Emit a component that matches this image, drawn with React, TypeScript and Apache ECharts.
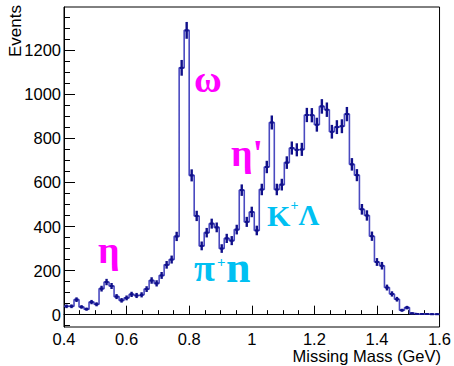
import React, { useEffect, useRef } from "react";
import * as echarts from "echarts";

// Histogram definition: 75 bins of 0.016 GeV from 0.4 GeV
const binStart = 0.4;
const binWidth = 0.016;
const counts = [
  38, 38, 68, 35, 25, 57, 47, 118, 148, 130,
  82, 65, 76, 92, 87, 90, 116, 155, 142, 178,
  226, 250, 355, 1120, 1290, 632, 448, 312, 372, 413,
  396, 300, 346, 336, 386, 565, 421, 466, 382, 568,
  670, 872, 568, 590, 690, 756, 748, 750, 906, 905,
  862, 945, 930, 830, 851, 855, 910, 682, 633, 478,
  450, 356, 239, 222, 123, 94, 70, 20, 32, 6,
  3, 3, 3, 2, 2,
];

const xMajorTicks = [0.4, 0.6, 0.8, 1.0, 1.2, 1.4, 1.6];
const xMinorTicks = [0.45, 0.5, 0.55, 0.65, 0.7, 0.75, 0.85, 0.9, 0.95, 1.05, 1.1, 1.15, 1.25, 1.3, 1.35, 1.45, 1.5, 1.55];
const yMajorTicks = [0, 200, 400, 600, 800, 1000, 1200];
const yMinorTicks = [-50, 50, 100, 150, 250, 300, 350, 450, 500, 550, 650, 700, 750, 850, 900, 950, 1050, 1100, 1150, 1250, 1300, 1350];

const xLabel = "Missing Mass (GeV)";
const yLabel = "Events";

const SANS = '"Liberation Sans", Arial, Helvetica, sans-serif';
const SERIF = '"Liberation Serif", "Times New Roman", serif';
const MAGENTA = "#ff00ff";
const CYAN = "#00c0f2";

export default function App() {
  const ref = useRef<HTMLDivElement>(null);
  useEffect(() => {
    if (!ref.current) return;
    const chart = echarts.init(ref.current, null, { renderer: "svg" });

    const stepData: number[][] = [];
    const barData: number[][] = [];
    counts.forEach((v, i) => {
      const x0 = binStart + i * binWidth;
      const x1 = x0 + binWidth;
      stepData.push([x0, v], [x1, v]);
      barData.push([x0, x1, v, Math.sqrt(v)]);
    });

    const fmt = (v: number) => String(Math.round(v * 10) / 10);

    const option: any = {
      animation: false,
      grid: { left: 64, top: 7, width: 377, height: 320, show: true, borderColor: "#000", borderWidth: 1, backgroundColor: "transparent" },
      xAxis: [
        {
          type: "value", min: 0.4, max: 1.6, position: "bottom",
          axisLine: { show: true, lineStyle: { color: "#000", width: 1 } },
          axisTick: { show: true, inside: true, length: 9, customValues: xMajorTicks, lineStyle: { color: "#000" } },
          axisLabel: { show: true, customValues: xMajorTicks, formatter: fmt, color: "#000", fontSize: 16.5, fontFamily: SANS, margin: 3 },
          splitLine: { show: false },
        },
        {
          type: "value", min: 0.4, max: 1.6, position: "bottom",
          axisLine: { show: false },
          axisTick: { show: true, inside: true, length: 4.5, customValues: xMinorTicks, lineStyle: { color: "#000" } },
          axisLabel: { show: false },
          splitLine: { show: false },
        },
      ],
      yAxis: [
        {
          type: "value", min: -56, max: 1396, position: "left",
          axisLine: { show: true, lineStyle: { color: "#000", width: 1 } },
          axisTick: { show: true, inside: true, length: 11, customValues: yMajorTicks, lineStyle: { color: "#000" } },
          axisLabel: { show: true, customValues: yMajorTicks, formatter: (v: number) => String(v), color: "#000", fontSize: 16.5, fontFamily: SANS, margin: 3 },
          splitLine: { show: false },
        },
        {
          type: "value", min: -56, max: 1396, position: "left",
          axisLine: { show: false },
          axisTick: { show: true, inside: true, length: 6, customValues: yMinorTicks, lineStyle: { color: "#000" } },
          axisLabel: { show: false },
          splitLine: { show: false },
        },
      ],
      series: [
        {
          type: "line", data: stepData, xAxisIndex: 0, yAxisIndex: 0,
          symbol: "none", lineStyle: { color: "#4a4ac0", width: 1.6 }, z: 2,
        },
        {
          type: "custom", data: barData, xAxisIndex: 0, yAxisIndex: 0, z: 3,
          encode: { x: [0, 1], y: [2] },
          renderItem: (params: any, api: any) => {
            const x0 = api.value(0), x1 = api.value(1), v = api.value(2), e = api.value(3);
            const xc = (x0 + x1) / 2;
            const pL = api.coord([x0, v]);
            const pR = api.coord([x1, v]);
            const pT = api.coord([xc, v + e]);
            const pB = api.coord([xc, v - e]);
            const inset = (pR[0] - pL[0]) * 0.12;
            const st = { stroke: "#10108a", lineWidth: 2 };
            return {
              type: "group",
              children: [
                { type: "line", shape: { x1: pL[0] + inset, y1: pL[1], x2: pR[0] - inset, y2: pR[1] }, style: st },
                { type: "line", shape: { x1: pT[0], y1: pT[1] - 0.5, x2: pB[0], y2: pB[1] + 0.5 }, style: { stroke: "#10108a", lineWidth: 2.4 } },
              ],
            };
          },
        },
      ],
      graphic: [
        { type: "text", x: 15, y: 31, rotation: Math.PI / 2, style: { text: yLabel, font: `17px ${SANS}`, fill: "#000", align: "center", verticalAlign: "middle" } },
        { type: "text", x: 441, y: 356, style: { text: xLabel, font: `16.5px ${SANS}`, fill: "#000", align: "right", verticalAlign: "middle" } },
        { type: "text", x: 194, y: 79, style: { text: "ω", font: `bold 38px ${SERIF}`, fill: MAGENTA, align: "left", verticalAlign: "middle" } },
        { type: "text", x: 98, y: 250, style: { text: "η", font: `bold 38px ${SERIF}`, fill: MAGENTA, align: "left", verticalAlign: "middle" } },
        { type: "text", x: 231, y: 153, style: { text: "η'", font: `bold 38px ${SERIF}`, fill: MAGENTA, align: "left", verticalAlign: "middle" } },
        { type: "text", x: 194, y: 268, style: { text: "π", font: `bold 38px ${SERIF}`, fill: CYAN, align: "left", verticalAlign: "middle" } },
        { type: "text", x: 217, y: 262, style: { text: "+", font: `bold 15px ${SERIF}`, fill: CYAN, align: "left", verticalAlign: "middle" } },
        { type: "text", x: 226, y: 267, style: { text: "n", font: `bold 44px ${SERIF}`, fill: CYAN, align: "left", verticalAlign: "middle" } },
        { type: "text", x: 267, y: 215, style: { text: "K", font: `bold 30px ${SERIF}`, fill: CYAN, align: "left", verticalAlign: "middle" } },
        { type: "text", x: 290.5, y: 205, style: { text: "+", font: `bold 14px ${SERIF}`, fill: CYAN, align: "left", verticalAlign: "middle" } },
        { type: "text", x: 298.5, y: 215, style: { text: "Λ", font: `bold 29px ${SERIF}`, fill: CYAN, align: "left", verticalAlign: "middle" } },
      ],
    };
    chart.setOption(option);
    return () => chart.dispose();
  }, []);
  return <div ref={ref} style={{ width: 454, height: 366, position: "absolute", left: 0, top: 0 }} />;
}
